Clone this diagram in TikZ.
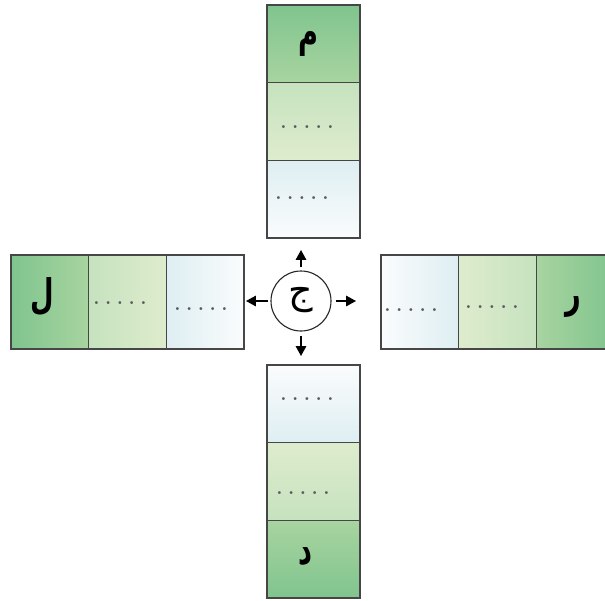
\documentclass[tikz,border=0pt]{standalone}
\usepackage{fontspec}
\usepackage{graphicx}
\usetikzlibrary{arrows.meta}
\newfontfamily\arabicfont[Script=Arabic]{DejaVu Sans}
\TeXXeTstate=1
\definecolor{gOut}{RGB}{128,196,142}
\definecolor{gOut2}{RGB}{168,212,160}
\definecolor{gMid}{RGB}{198,226,190}
\definecolor{gMid2}{RGB}{222,236,206}
\definecolor{gIn}{RGB}{222,238,242}
\definecolor{gIn2}{RGB}{250,252,253}
\definecolor{edge}{RGB}{70,70,70}
\definecolor{dotc}{RGB}{90,90,90}
\newcommand\fivedots{.\hskip5.5pt.\hskip5.5pt.\hskip5.5pt.\hskip5.5pt.}
\newcommand\ar[1]{{\arabicfont\beginR #1\endR}}
\newcommand\tall[1]{\scalebox{0.8}[1.2]{#1}}
\begin{document}
\begin{tikzpicture}[x=1pt,y=-1pt,
  vcell/.style={draw=edge, line width=1.6pt, inner sep=0pt, minimum width=93pt, minimum height=77.67pt},
  hcell/.style={draw=edge, line width=1.6pt, inner sep=0pt, minimum width=77.67pt, minimum height=94pt},
  letter/.style={inner sep=0pt, font=\fontsize{34}{34}\selectfont\arabicfont\bfseries},
  dotrow/.style={inner sep=0pt, text=dotc, font=\fontsize{20}{20}\selectfont\bfseries},
  arr/.style={draw=black, line width=2.5pt, -{Triangle[length=10pt,width=10pt]}},
  hub/.style={circle, draw=black!85, line width=1.1pt, fill=white, minimum size=60pt, inner sep=0pt}]
\useasboundingbox (0,0) rectangle (605,600);
\clip (0,0) rectangle (605,600);
% top column
\node[vcell, top color=gOut, bottom color=gOut2] (t1) at (313.5,43.8) {};
\node[vcell, top color=gMid, bottom color=gMid2] (t2) at (313.5,121.5) {};
\node[vcell, top color=gIn, bottom color=gIn2] (t3) at (313.5,199.2) {};
% bottom column
\node[vcell, top color=gIn2, bottom color=gIn] (b1) at (313.5,403.8) {};
\node[vcell, top color=gMid2, bottom color=gMid] (b2) at (313.5,481.5) {};
\node[vcell, top color=gOut2, bottom color=gOut] (b3) at (313.5,559.2) {};
% left row
\node[hcell, left color=gOut, right color=gOut2] (l1) at (49.8,302) {};
\node[hcell, left color=gMid, right color=gMid2] (l2) at (127.5,302) {};
\node[hcell, left color=gIn, right color=gIn2] (l3) at (205.2,302) {};
% right row
\node[hcell, left color=gIn2, right color=gIn] (r1) at (419.8,302) {};
\node[hcell, left color=gMid2, right color=gMid] (r2) at (497.5,302) {};
\node[hcell, left color=gOut2, right color=gOut] (r3) at (575.2,302) {};
% letters
\node[letter] (lm) at (308,44) {\tall{\ar{م}}};
\node[letter] (ll) at (42,297) {\tall{\ar{ل}}};
\node[letter] (lr) at (573,307) {\tall{\ar{ر}}};
\node[letter] (ld) at (305,557) {\tall{\ar{د}}};
% dots
\node[dotrow] (dt2) at (307,127) {\fivedots};
\node[dotrow] (dt3) at (302,198) {\fivedots};
\node[dotrow] (db1) at (307,399) {\fivedots};
\node[dotrow] (db2) at (303,493) {\fivedots};
\node[dotrow] (dl2) at (120,303) {\fivedots};
\node[dotrow] (dl3) at (201,309) {\fivedots};
\node[dotrow] (dr1) at (411,310) {\fivedots};
\node[dotrow] (dr2) at (492,307) {\fivedots};
% hub
\node[hub] (c) at (301,301) {};
\node[letter, font=\fontsize{38}{38}\selectfont\arabicfont] (lj) at (301,300) {\ar{ج}};
% arrows
\draw[arr, shorten <=3pt, shorten >=11pt] (c.north) -- (c.north |- t3.south);
\draw[arr, shorten <=4pt, shorten >=8pt] (c.south) -- (c.south |- b1.north);
\draw[arr, shorten <=2pt, shorten >=1pt] (c.west) -- (c.west -| l3.east);
\draw[arr, shorten <=4pt, shorten >=24pt] (c.east) -- (c.east -| r1.west);
\end{tikzpicture}
\end{document}
